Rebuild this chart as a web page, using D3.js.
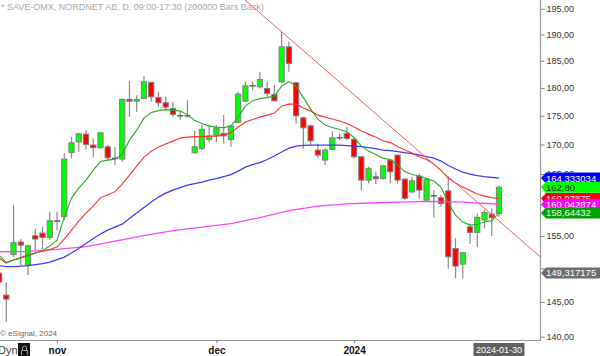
<!DOCTYPE html>
<html><head><meta charset="utf-8">
<script src="https://cdn.jsdelivr.net/npm/d3@7"></script>
<style>html,body{margin:0;padding:0;background:#fff;overflow:hidden}svg{display:block;font-family:Arial,"Liberation Sans",sans-serif}</style>
</head><body><svg id="c" width="600" height="356"></svg>
<script>
const title = "* SAVE-OMX, NORDNET AB, D, 09:00-17:30 (200000 Bars Back)";
const dates = ["2023-10-20","2023-10-23","2023-10-24","2023-10-25","2023-10-26","2023-10-27","2023-10-30","2023-10-31",
"2023-11-01","2023-11-02","2023-11-03","2023-11-06","2023-11-07","2023-11-08","2023-11-09","2023-11-10","2023-11-13","2023-11-14","2023-11-15","2023-11-16","2023-11-17","2023-11-20","2023-11-21","2023-11-22","2023-11-23","2023-11-24","2023-11-27","2023-11-28","2023-11-29","2023-11-30",
"2023-12-01","2023-12-04","2023-12-05","2023-12-06","2023-12-07","2023-12-08","2023-12-11","2023-12-12","2023-12-13","2023-12-14","2023-12-15","2023-12-18","2023-12-19","2023-12-20","2023-12-21","2023-12-22","2023-12-27","2023-12-28","2023-12-29",
"2024-01-02","2024-01-03","2024-01-04","2024-01-05","2024-01-08","2024-01-09","2024-01-10","2024-01-11","2024-01-12","2024-01-15","2024-01-16","2024-01-17","2024-01-18","2024-01-19","2024-01-22","2024-01-23","2024-01-24","2024-01-25","2024-01-26","2024-01-29","2024-01-30"];
const open  = [149.29,146.01,152.13,154.04,150.50,155.02,155.44,154.77,157.34,158.03,168.65,170.45,171.79,169.90,169.44,169.61,167.63,167.51,177.92,177.61,178.10,181.00,178.28,177.31,176.31,175.00,175.00,168.58,169.33,170.87,171.62,171.91,170.87,173.83,177.61,180.38,180.20,179.91,178.82,181.11,187.63,180.93,174.65,173.24,169.04,167.34,169.16,171.15,171.91,170.92,167.90,163.99,164.54,164.27,167.34,168.19,164.16,162.06,164.66,160.71,161.41,161.09,162.22,153.06,150.65,156.43,155.55,157.50,158.46,158.57];
const high  = [150.30,147.94,159.91,154.51,153.60,156.07,156.43,158.83,158.83,168.53,171.32,172.02,172.49,171.05,172.19,169.90,169.51,178.10,181.29,178.69,182.16,181.11,179.29,178.39,177.48,175.71,177.79,172.37,173.37,173.37,173.37,175.12,173.37,179.29,181.11,181.11,182.95,181.11,180.51,190.50,188.59,181.11,174.82,173.37,170.19,169.33,172.19,171.91,173.07,171.32,167.90,166.22,165.38,166.50,167.46,168.31,164.27,164.54,165.11,164.27,162.34,161.53,164.54,154.61,152.54,156.97,158.57,159.10,159.37,163.16];
const low   = [147.00,142.08,151.72,150.50,148.99,152.80,152.96,154.35,155.91,157.50,167.63,168.75,169.16,167.80,169.33,167.34,166.50,167.05,174.82,175.71,178.00,177.48,176.60,176.01,174.82,174.24,174.72,168.48,169.04,170.29,170.45,170.19,169.61,173.66,177.48,179.60,179.91,178.39,177.48,180.82,182.95,173.66,169.33,169.90,167.80,166.50,169.04,170.75,170.75,167.63,162.34,163.44,163.32,164.10,163.44,163.44,160.71,161.80,160.99,160.43,157.93,159.63,150.00,148.50,148.50,153.73,153.23,156.18,154.97,158.03];
const close = [147.94,145.42,153.93,153.57,153.46,154.51,154.77,157.39,157.34,167.51,170.29,171.84,170.01,169.44,172.02,167.73,167.63,177.92,177.61,177.92,181.11,178.39,177.31,176.54,175.25,175.00,175.00,169.61,172.61,171.44,172.89,171.49,173.19,178.88,180.38,180.38,181.55,179.00,177.66,187.63,184.51,175.00,172.89,170.63,168.19,169.04,171.15,171.15,171.05,167.90,163.99,165.95,164.21,166.38,165.38,163.99,160.99,163.87,162.34,164.10,161.41,160.17,151.77,150.35,152.38,155.55,157.93,158.73,157.93,162.80];
const maGreen = [152.03,150.88,151.26,151.57,151.88,152.34,152.72,153.42,154.35,157.98,161.04,162.67,163.99,165.66,167.09,167.34,167.51,168.36,170.75,172.49,174.59,175.57,175.92,176.10,176.01,175.83,175.21,174.15,173.63,173.19,173.02,172.93,173.19,174.77,176.72,177.70,178.06,178.24,178.51,180.33,181.15,180.33,178.24,176.19,174.42,173.37,172.93,172.58,172.19,171.18,169.72,168.87,168.28,167.63,167.43,166.50,165.41,164.91,164.66,164.24,163.83,162.84,160.23,158.30,157.18,156.70,156.85,157.20,157.40,158.64];
const maRed = [151.57,150.80,151.26,151.65,152.03,152.34,152.57,152.88,153.27,154.51,155.91,157.34,158.62,159.74,161.12,161.53,162.09,163.32,164.83,166.33,167.85,168.87,169.56,170.07,170.58,171.10,171.27,171.36,171.36,171.44,171.44,171.62,172.05,173.02,173.89,174.33,174.77,175.12,175.48,176.72,177.08,177.08,176.37,175.83,175.12,174.77,174.42,174.07,173.63,173.02,172.32,171.79,171.27,170.66,170.32,169.64,169.04,168.53,167.85,167.43,166.67,165.66,164.32,163.49,162.84,162.26,161.69,161.36,161.12,160.98];
const maBlue = [150.42,150.27,150.27,150.35,150.42,150.57,150.73,150.96,151.34,151.72,152.34,153.03,153.81,154.58,155.29,155.91,156.39,156.86,157.74,158.62,159.50,160.39,161.20,161.85,162.34,162.75,163.16,163.41,163.66,163.99,164.24,164.58,164.91,165.49,166.16,166.58,166.92,167.43,168.02,168.70,169.38,169.72,169.84,169.90,169.90,169.90,169.90,169.90,169.81,169.72,169.64,169.47,169.30,169.04,168.96,168.79,168.62,168.45,168.19,167.94,167.68,167.17,166.42,165.83,165.33,165.00,164.75,164.58,164.45,164.33];
const maMagenta = [152.54,null,null,null,152.61,null,null,null,152.91,null,null,null,153.34,null,null,null,154.19,null,null,null,155.05,null,null,null,155.83,null,null,null,156.39,null,null,null,156.94,null,null,null,157.90,null,null,null,159.02,null,null,null,159.74,null,null,null,160.10,null,null,null,160.28,null,null,null,160.42,null,null,null,160.50,null,null,null,160.39,null,null,null,null,160.04];
const trendDates = ["2023-12-14","2024-01-19"];
const trendValues = [190.50, 164.54];
const yTicks = [140,145,150,155,160,165,170,175,180,185,190,195];
const yTicksHiddenLabel = [150,160];
const xTickDates = ["2023-11-01","2023-12-01","2024-01-02"];
const xTickLabels = ["nov","dec","2024"];
const flagValues = [164.333034, 162.80, 160.97875, 160.042874, 158.64432, 149.317175];
const flagTexts = ["164,333034","162,80","160,97875","160,042874","158,64432","149,317175"];
const lastDateLabel = "2024-01-30";

const flagStyles = [
  {bg:"#0000ff", fg:"#ffffff"},
  {bg:"#00ff00", fg:"#103010"},
  {bg:"#ff0000", fg:"#ffe0e0"},
  {bg:"#ff00ff", fg:"#ffffff"},
  {bg:"#00a000", fg:"#e8ffe8"},
  {bg:"#6e6e6e", fg:"#ffffff"}
];

const svg = d3.select('#c');
const plotR = 540, plotB = 340;
const x = d3.scalePoint().domain(dates).range([-0.95, 499]);
const y = d3.scaleLog().domain([139.53, 196.72]).range([plotB, 0]);

svg.append('defs').append('clipPath').attr('id','clip')
  .append('rect').attr('x',0).attr('y',0).attr('width',plotR).attr('height',plotB);

svg.append('text').attr('x',1).attr('y',10).attr('font-size',9).attr('fill','#a8a8a8').text(title);

const plot = svg.append('g').attr('clip-path','url(#clip)');

const bars = dates.map((d,i)=>({d, o:open[i], h:high[i], l:low[i], c:close[i]}));
const bw = 5.2;
plot.append('g').selectAll('line').data(bars).join('line')
  .attr('x1',b=>x(b.d)).attr('x2',b=>x(b.d))
  .attr('y1',b=>y(b.h)).attr('y2',b=>y(b.l))
  .attr('stroke','#8a8a8a').attr('stroke-width',1.2);
plot.append('g').selectAll('rect').data(bars.filter(b=>b.o!==b.c)).join('rect')
  .attr('x',b=>x(b.d)-bw/2).attr('width',bw)
  .attr('y',b=>y(Math.max(b.o,b.c)))
  .attr('height',b=>Math.max(1, y(Math.min(b.o,b.c))-y(Math.max(b.o,b.c))))
  .attr('fill',b=>b.c>b.o?'#00ff00':'#ff0000')
  .attr('stroke','#808080').attr('stroke-width',1);
plot.append('g').selectAll('line').data(bars.filter(b=>b.o===b.c)).join('line')
  .attr('x1',b=>x(b.d)-bw/2-0.5).attr('x2',b=>x(b.d)+bw/2+0.5)
  .attr('y1',b=>y(b.c)).attr('y2',b=>y(b.c))
  .attr('stroke','#606060').attr('stroke-width',1.5);

const line = d3.line().x(p=>x(p.d)).y(p=>y(p.v));
const series = [
  {vals:maMagenta, color:'#ff44ff', w:1.3},
  {vals:maBlue, color:'#3a3aff', w:1.2},
  {vals:maRed, color:'#ff3030', w:1.1},
  {vals:maGreen, color:'#2aa82a', w:1.1}
];
series.forEach(s=>{
  const pts = dates.map((d,i)=>({d, v:s.vals[i]})).filter(p=>p.v!=null);
  plot.append('path').attr('d',line(pts)).attr('fill','none')
    .attr('stroke',s.color).attr('stroke-width',s.w);
});

// trendline through the two highs, extended
const tx1 = x(trendDates[0]), ty1 = y(trendValues[0]);
const tx2 = x(trendDates[1]), ty2 = y(trendValues[1]);
const m = (ty2-ty1)/(tx2-tx1);
const xa = tx1 - 200, xb = plotR;
plot.append('line').attr('x1',xa).attr('y1',ty1+m*(xa-tx1)).attr('x2',xb).attr('y2',ty1+m*(xb-tx1))
  .attr('stroke','#ff5a5a').attr('stroke-width',1);

// frame
svg.append('line').attr('x1',0).attr('x2',plotR).attr('y1',plotB+0.5).attr('y2',plotB+0.5).attr('stroke','#9a9a9a').attr('stroke-width',1.2);
svg.append('line').attr('x1',plotR+0.5).attr('x2',plotR+0.5).attr('y1',0).attr('y2',plotB+1).attr('stroke','#9a9a9a').attr('stroke-width',1.2);

// right axis
const ra = svg.append('g').attr('transform',`translate(${plotR+0.5},0)`)
  .call(d3.axisRight(y).tickValues(yTicks).tickSize(4).tickSizeOuter(0).tickPadding(2)
    .tickFormat(v=>yTicksHiddenLabel.includes(v)?'':v.toFixed(2).replace('.',',')));
ra.select('.domain').remove();
ra.selectAll('line').attr('stroke','#808080');
ra.selectAll('text').attr('font-size',9).attr('fill','#333').attr('font-family','Arial,"Liberation Sans",sans-serif');

// bottom axis
const ba = svg.append('g').attr('transform',`translate(0,${plotB})`)
  .call(d3.axisBottom(x).tickValues(xTickDates).tickSize(3).tickPadding(4)
    .tickFormat(d=>xTickLabels[xTickDates.indexOf(d)]));
ba.select('.domain').remove();
ba.selectAll('line').attr('stroke','#808080');
ba.selectAll('text').attr('font-size',10).attr('font-weight','bold').attr('fill','#111').attr('font-family','Arial,"Liberation Sans",sans-serif');

// flags
flagValues.forEach((v,i)=>{
  const cy = y(v), st = flagStyles[i];
  const g = svg.append('g');
  g.append('polygon').attr('points',[[plotR+1,cy],[plotR+6,cy-5.5],[600,cy-5.5],[600,cy+5.5],[plotR+6,cy+5.5]].map(p=>p.join(',')).join(' '))
    .attr('fill',st.bg);
  g.append('text').attr('x',plotR+6).attr('y',cy+3.5).attr('font-size',9.5).attr('fill',st.fg).text(flagTexts[i]);
});

// last date label
const lx = x(dates[dates.length-1]);
svg.append('rect').attr('x',lx-25.5).attr('y',343).attr('width',51).attr('height',13).attr('fill','#606060');
svg.append('text').attr('x',lx).attr('y',353).attr('text-anchor','middle').attr('font-size',9).attr('fill','#fff').text(lastDateLabel);

// footer texts
svg.append('text').attr('x',0).attr('y',336).attr('font-size',8).attr('fill','#666').text('© eSignal, 2024');
svg.append('text').attr('x',-2).attr('y',354).attr('font-size',11).attr('fill','#444').text('Dyn');
svg.append('rect').attr('x',18).attr('y',343).attr('width',12).attr('height',13).attr('fill','#111');
svg.append('path').attr('d','M21.5,355 V350.5 H27.5 V355 M22.5,350.5 V348 A2,2 0 0 1 26.5,348 V350.5').attr('fill','none').attr('stroke','#9a9a9a').attr('stroke-width',1);
</script></body></html>
